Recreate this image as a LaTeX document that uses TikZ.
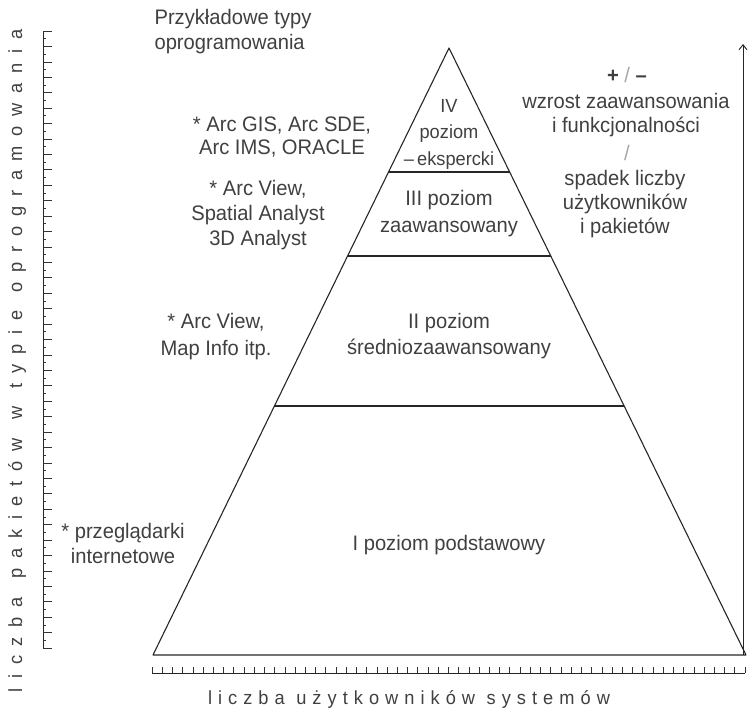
\documentclass[tikz,border=0pt]{standalone}
\usepackage{fontspec}
\setmainfont{Liberation Sans}[FakeStretch=0.96]
\usetikzlibrary{calc,arrows.meta}
\newcommand{\gp}{\hskip 0pt plus 1fill\relax}
\newcommand{\wg}{\hskip 0pt plus 1.9fill\relax}
\begin{document}
\begin{tikzpicture}[x=1pt,y=-1pt,
  txt/.style={font=\fontsize{21}{25}\selectfont, text=black!75, align=center, inner sep=0pt},
  pyr/.style={line width=1.1pt, black!85, line join=round},
  axisline/.style={line width=0.9pt, black!85},
  tickline/.style={line width=0.7pt, black!80}]
\useasboundingbox (0,0) rectangle (748,710);
% pyramid
\coordinate (apex) at (449,48);
\coordinate (bl) at (153,655);
\coordinate (br) at (746,655);
\draw[pyr] (apex) -- (bl) -- (br) -- cycle;
\coordinate (l1) at ($(apex)!0.2043!(bl)$);
\coordinate (r1) at ($(apex)!0.2043!(br)$);
\coordinate (l2) at ($(apex)!0.3427!(bl)$);
\coordinate (r2) at ($(apex)!0.3427!(br)$);
\coordinate (l3) at ($(apex)!0.5898!(bl)$);
\coordinate (r3) at ($(apex)!0.5898!(br)$);
\draw[pyr] (l1) -- (r1);
\draw[pyr] (l2) -- (r2);
\draw[pyr] (l3) -- (r3);
% pyramid labels
\node[txt, font=\fontsize{19}{26.5}\selectfont] (lv4) at (449,134) {IV\\poziom\\–\,ekspercki};
\node[txt, font=\fontsize{21}{27}\selectfont] (lv3) at (449,214) {III poziom\\zaawansowany};
\node[txt, font=\fontsize{21}{26}\selectfont] (lv2) at (449,336) {II poziom\\średniozaawansowany};
\node[txt] (lv1) at (449,545) {I poziom podstawowy};
% left examples
\node[txt, align=left] (title) at (233,32) {Przykładowe typy\\oprogramowania};
\node[txt, font=\fontsize{21}{23.5}\selectfont] (ex4) at (282,137) {* Arc GIS, Arc SDE,\\Arc IMS, ORACLE};
\node[txt] (ex3) at (258,215) {* Arc View,\\Spatial Analyst\\3D Analyst};
\node[txt, font=\fontsize{21}{27}\selectfont] (ex2) at (216,337) {* Arc View,\\Map Info itp.};
\node[txt] (ex1) at (123,543) {* przeglądarki\\internetowe};
% right texts
\node[txt] (pm) at (627,75) {\textbf{+} {\color{black!35}/} \textbf{--}};
\node[txt, font=\fontsize{21}{24}\selectfont] (up) at (626,115) {wzrost zaawansowania\\i funkcjonalności};
\node[txt, text=black!35] (sl) at (627,153) {/};
\node[txt, font=\fontsize{21}{24}\selectfont] (down) at (625,204) {spadek liczby\\użytkowników\\i pakietów};
% right arrow
\coordinate (abot) at (743,655);
\coordinate (atop) at (743,44);
\draw[axisline, -{Straight Barb[length=5pt,width=8pt]}] (abot) -- (atop);
% left axis
\coordinate (ly0) at (43,31);
\coordinate (ly1) at (43,648);
\draw[axisline] (ly0) -- (ly1);
\foreach \i in {0,...,80} {
  \pgfmathsetmacro{\yy}{31+\i*7.7125}
  \ifodd\i
    \draw[tickline] (43,\yy) -- (46,\yy);
  \else
    \draw[tickline] (43,\yy) -- (52,\yy);
  \fi
}
% bottom axis
\coordinate (bx0) at (152,673);
\coordinate (bx1) at (745,673);
\draw[axisline] (bx0) -- (bx1);
\foreach \i in {0,...,58} {
  \pgfmathsetmacro{\xx}{152+\i*10.2241}
  \draw[tickline] (\xx,673) -- (\xx,667);
}
% axis labels
\node[txt, font=\fontsize{19}{23}\selectfont, anchor=base] (xlab) at (409,704) {\makebox[402pt][s]{l\gp i\gp c\gp z\gp b\gp a\wg u\gp ż\gp y\gp t\gp k\gp o\gp w\gp n\gp i\gp k\gp ó\gp w\wg s\gp y\gp s\gp t\gp e\gp m\gp ó\gp w}};
\node[txt, font=\fontsize{19}{23}\selectfont, rotate=90, anchor=base] (ylab) at (22,361) {\makebox[663pt][s]{l\gp i\gp c\gp z\gp b\gp a\wg p\gp a\gp k\gp i\gp e\gp t\gp ó\gp w\wg w\wg t\gp y\gp p\gp i\gp e\wg o\gp p\gp r\gp o\gp g\gp r\gp a\gp m\gp o\gp w\gp a\gp n\gp i\gp a}};
\end{tikzpicture}
\end{document}
